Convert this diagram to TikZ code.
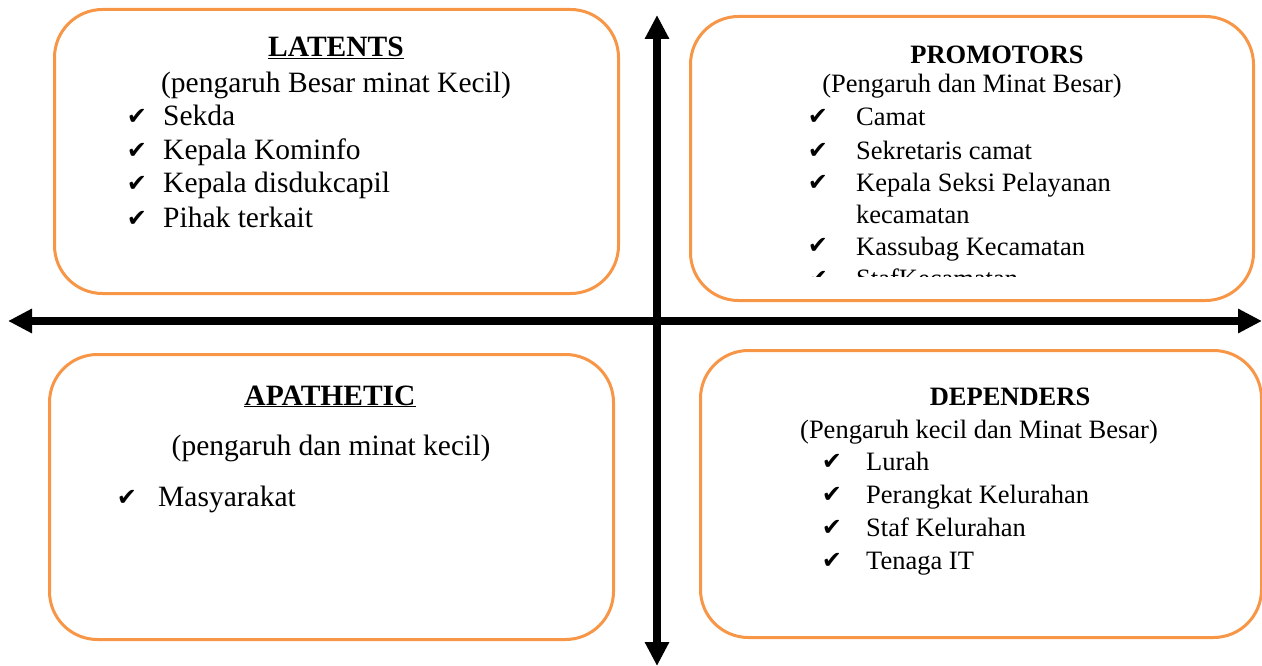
\documentclass[tikz,border=0pt]{standalone}
\usepackage{fontspec}
\setmainfont{Liberation Serif}
\newfontfamily\symf{DejaVu Sans}
\usetikzlibrary{arrows.meta}
\definecolor{boxorange}{HTML}{F79646}
\begin{document}
\begin{tikzpicture}[x=1pt,y=-1pt,
  quad/.style={draw=boxorange, line width=3pt, rounded corners=48pt, anchor=north west, inner sep=0pt},
  big/.style={font=\fontsize{29.5}{33.5}\selectfont, inner sep=0pt},
  small/.style={font=\fontsize{26.5}{32}\selectfont, inner sep=0pt},
  txt/.style={anchor=base west},
  ctr/.style={anchor=base},
  chk/.style={anchor=base, inner sep=0pt, font=\symf\fontsize{24}{24}\selectfont},
  axisline/.style={line width=8pt, {Triangle[length=24pt,width=23pt]}-{Triangle[length=24pt,width=23pt]}}
]
\useasboundingbox (0,0) rectangle (1262,666);

% boxes
\node[quad, minimum width=564pt, minimum height=284pt] (latbox) at (53,8) {};
\node[quad, minimum width=563pt, minimum height=284pt] (probox) at (689,15) {};
\node[quad, minimum width=564pt, minimum height=285pt] (apabox) at (48,353) {};
\node[quad, minimum width=561pt, minimum height=287pt] (depbox) at (699,349) {};

% axes
\coordinate (L) at (8,321);
\coordinate (R) at (1262,321);
\coordinate (T) at (657,15);
\coordinate (B) at (657,666);
\draw[axisline] (L) -- (R);
\draw[axisline] (T) -- (B);

% LATENTS
\node[big, ctr] (latt) at (336,57) {\textbf{\underline{LATENTS}}};
\node[big, ctr] (lats) at (336,93) {(pengaruh Besar minat Kecil)};
\node[chk] (lc1) at (137,125) {✔};
\node[big, txt] (l1) at (163,126) {Sekda};
\node[chk] (lc2) at (137,159) {✔};
\node[big, txt] (l2) at (163,160) {Kepala Kominfo};
\node[chk] (lc3) at (137,192) {✔};
\node[big, txt] (l3) at (163,193) {Kepala disdukcapil};
\node[chk] (lc4) at (137,226) {✔};
\node[big, txt] (l4) at (163,227) {Pihak terkait};

% PROMOTORS
\node[small, ctr] (prot) at (997,64) {\textbf{PROMOTORS}};
\node[small, ctr] (pros) at (972,93) {(Pengaruh dan Minat Besar)};
\begin{scope}
\clip (689,15) rectangle (1252,276);
\node[chk] (pc1) at (818,125) {✔};
\node[small, txt] (p1) at (856,126) {Camat};
\node[chk] (pc2) at (818,159) {✔};
\node[small, txt] (p2) at (856,160) {Sekretaris camat};
\node[chk] (pc3) at (818,191) {✔};
\node[small, txt] (p3) at (856,192) {Kepala Seksi Pelayanan};
\node[small, txt] (p3b) at (856,223) {kecamatan};
\node[chk] (pc4) at (818,254) {✔};
\node[small, txt] (p4) at (856,255) {Kassubag Kecamatan};
\node[chk] (pc5) at (818,286) {✔};
\node[small, txt] (p5) at (856,287) {StafKecamatan};
\end{scope}

% APATHETIC
\node[big, ctr] (apat) at (330,405) {\textbf{\underline{APATHETIC}}};
\node[big, ctr] (apas) at (331,455) {(pengaruh dan minat kecil)};
\node[chk] (ac1) at (127,505) {✔};
\node[big, txt] (a1) at (158,506) {Masyarakat};

% DEPENDERS
\node[small, ctr] (dept) at (1010,405) {\textbf{DEPENDERS}};
\node[small, ctr] (deps) at (979,438) {(Pengaruh kecil dan Minat Besar)};
\node[chk] (dc1) at (832,469) {✔};
\node[small, txt] (d1) at (866,470) {Lurah};
\node[chk] (dc2) at (832,502) {✔};
\node[small, txt] (d2) at (866,503) {Perangkat Kelurahan};
\node[chk] (dc3) at (832,535) {✔};
\node[small, txt] (d3) at (866,536) {Staf Kelurahan};
\node[chk] (dc4) at (832,568) {✔};
\node[small, txt] (d4) at (866,569) {Tenaga IT};
\end{tikzpicture}
\end{document}
